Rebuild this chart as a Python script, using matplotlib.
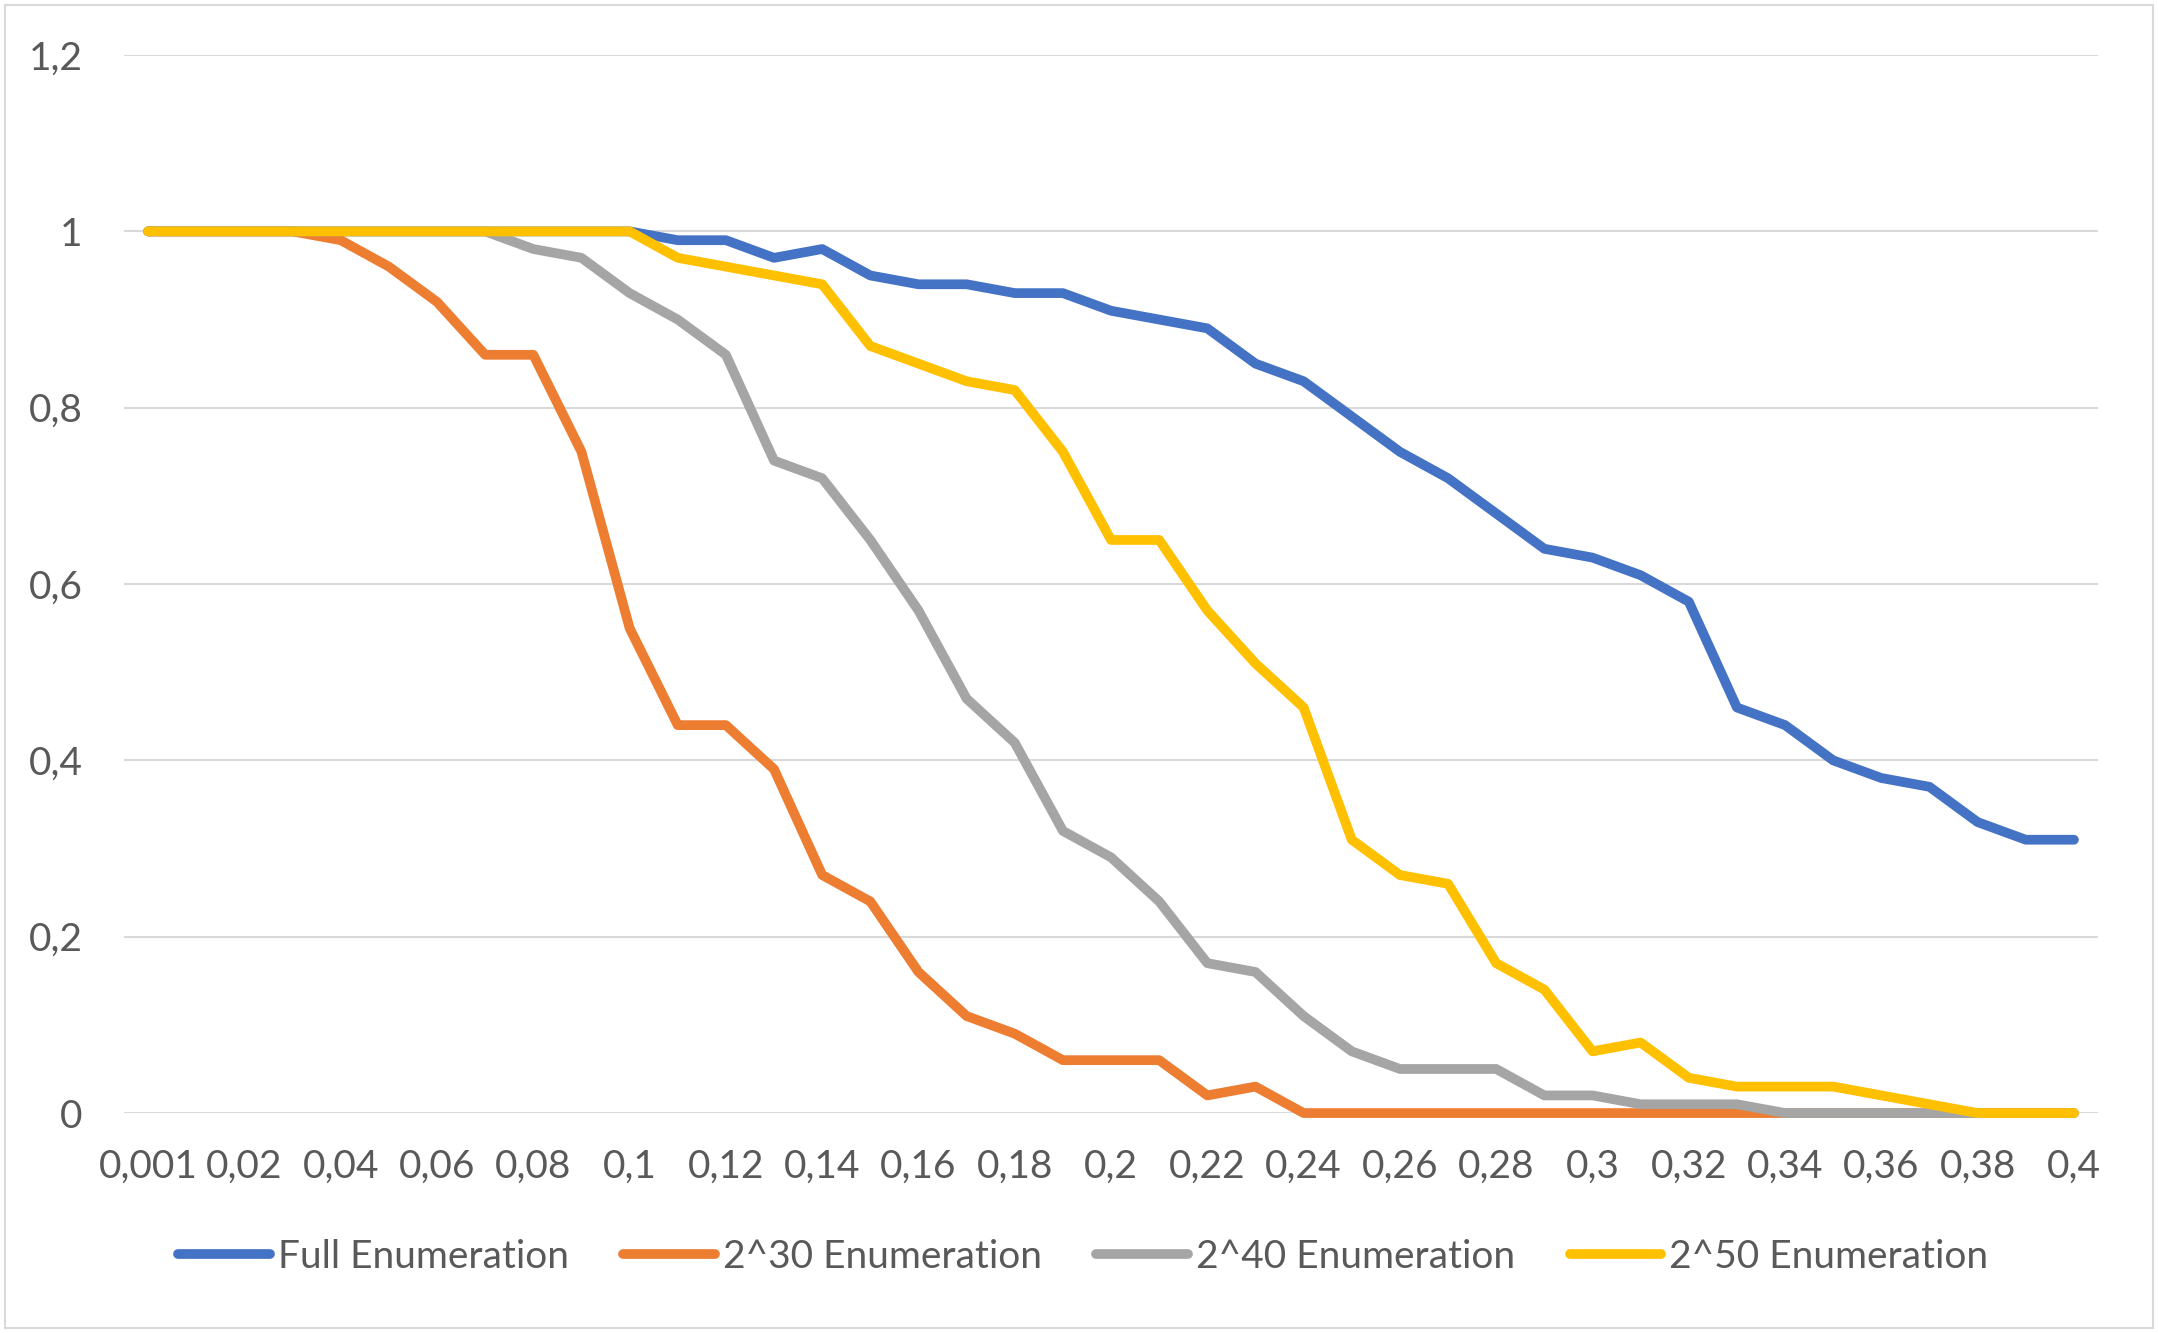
import numpy as np
import matplotlib.pyplot as plt
from matplotlib.patches import Rectangle

# x categories (error rate)
x_labels = ['0,001', '0,01', '0,02', '0,03', '0,04', '0,05', '0,06', '0,07', '0,08', '0,09',
            '0,1', '0,11', '0,12', '0,13', '0,14', '0,15', '0,16', '0,17', '0,18', '0,19',
            '0,2', '0,21', '0,22', '0,23', '0,24', '0,25', '0,26', '0,27', '0,28', '0,29',
            '0,3', '0,31', '0,32', '0,33', '0,34', '0,35', '0,36', '0,37', '0,38', '0,39', '0,4']

full_enum = [1, 1, 1, 1, 1, 1, 1, 1, 1, 1,
             1, 0.99, 0.99, 0.97, 0.98, 0.95, 0.94, 0.94, 0.93, 0.93,
             0.91, 0.90, 0.89, 0.85, 0.83, 0.79, 0.75, 0.72, 0.68, 0.64,
             0.63, 0.61, 0.58, 0.46, 0.44, 0.40, 0.38, 0.37, 0.33, 0.31, 0.31]

enum_2_30 = [1, 1, 1, 1, 0.99, 0.96, 0.92, 0.86, 0.86, 0.75,
             0.55, 0.44, 0.44, 0.39, 0.27, 0.24, 0.16, 0.11, 0.09, 0.06,
             0.06, 0.06, 0.02, 0.03, 0, 0, 0, 0, 0, 0,
             0, 0, 0, 0, 0, 0, 0, 0, 0, 0, 0]

enum_2_40 = [1, 1, 1, 1, 1, 1, 1, 1, 0.98, 0.97,
             0.93, 0.90, 0.86, 0.74, 0.72, 0.65, 0.57, 0.47, 0.42, 0.32,
             0.29, 0.24, 0.17, 0.16, 0.11, 0.07, 0.05, 0.05, 0.05, 0.02,
             0.02, 0.01, 0.01, 0.01, 0, 0, 0, 0, 0, 0, 0]

enum_2_50 = [1, 1, 1, 1, 1, 1, 1, 1, 1, 1,
             1, 0.97, 0.96, 0.95, 0.94, 0.87, 0.85, 0.83, 0.82, 0.75,
             0.65, 0.65, 0.57, 0.51, 0.46, 0.31, 0.27, 0.26, 0.17, 0.14,
             0.07, 0.08, 0.04, 0.03, 0.03, 0.03, 0.02, 0.01, 0, 0, 0]

series_names = ['Full Enumeration', '2^30 Enumeration', '2^40 Enumeration', '2^50 Enumeration']
colors = ['#4472C4', '#ED7D31', '#A5A5A5', '#FFC000']

y_ticks = [0, 0.2, 0.4, 0.6, 0.8, 1, 1.2]
y_tick_labels = ['0', '0,2', '0,4', '0,6', '0,8', '1', '1,2']

plt.rcParams['font.family'] = ['Lato', 'DejaVu Sans']
text_color = '#595959'

fig = plt.figure(figsize=(21.58, 13.33), dpi=100)
ax = fig.add_axes([0.0575, 0.165, 0.9147, 0.7937])

x = np.arange(len(x_labels))
for vals, name, c in zip([full_enum, enum_2_30, enum_2_40, enum_2_50], series_names, colors):
    ax.plot(x, vals, color=c, lw=7, label=name, clip_on=False,
            solid_capstyle='round', solid_joinstyle='round')

ax.set_xlim(-0.5, len(x_labels) - 0.5)
ax.set_ylim(0, 1.2)
ax.set_yticks(y_ticks)
ax.set_yticklabels(y_tick_labels)
ax.set_xticks(x[::2])
ax.set_xticklabels(x_labels[::2])
ax.tick_params(axis='both', length=0, labelsize=28, colors=text_color)
ax.tick_params(axis='y', pad=30)
ax.tick_params(axis='x', pad=26)
ax.grid(axis='y', color='#D9D9D9', lw=1.5)
ax.set_axisbelow(True)
for s in ax.spines.values():
    s.set_visible(False)

leg = fig.legend(loc='center', bbox_to_anchor=(0.502, 0.057), ncol=4, frameon=False,
                 fontsize=28, handlelength=2.36, handletextpad=0.2, columnspacing=1.4)
for t in leg.get_texts():
    t.set_color(text_color)
for h in leg.get_lines():
    h.set_linewidth(7)
    h.set_solid_capstyle('round')

# outer chart border
fig.patches.append(Rectangle((0.0025, 0.004), 0.995, 0.992, transform=fig.transFigure,
                             fill=False, edgecolor='#D9D9D9', lw=1.5))

fig.savefig('out.png', dpi=100)
